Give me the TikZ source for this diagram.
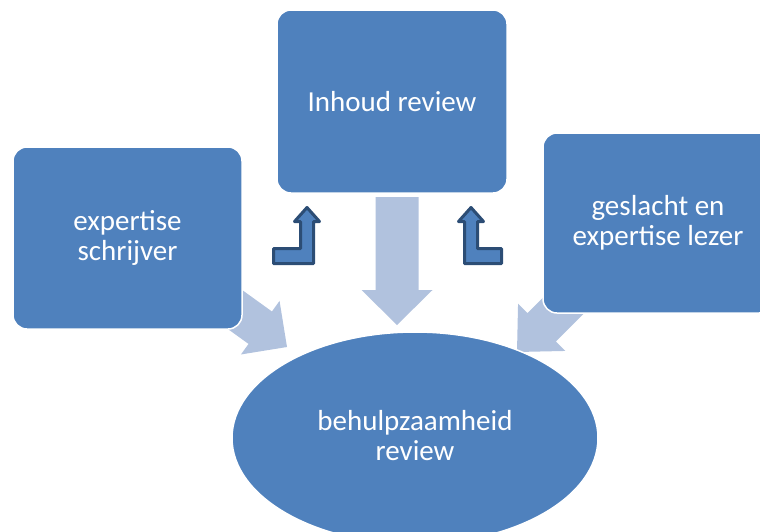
\documentclass[tikz,border=0pt]{standalone}
\usepackage{fontspec}
\setmainfont{Carlito}
\usetikzlibrary{shapes.geometric}

\definecolor{boxblue}{HTML}{4F81BD}
\definecolor{arrowlight}{HTML}{B1C2DE}
\definecolor{bentedge}{HTML}{2C4D75}

\tikzset{
  stage/.style={rectangle, rounded corners=14pt, fill=boxblue, draw=white,
    line width=1.5pt, text=white, align=center,
    font=\fontsize{29}{30}\selectfont},
  goal/.style={ellipse, fill=boxblue, draw=white, line width=1.5pt,
    text=white, align=center, inner sep=0pt,
    font=\fontsize{29}{30}\selectfont},
  flowarrow/.style={fill=arrowlight},
  bentarrow/.style={fill=boxblue, draw=bentedge, line width=3pt,
    line join=round}
}

% block arrow pointing along +x, tip at the origin
% #1 length, #2 head length, #3 half shaft width, #4 half head width
\newcommand{\blockarrowpath}[4]{%
  (-#1,#3) -- (-#2,#3) -- (-#2,#4) -- (0,0) -- (-#2,-#4) -- (-#2,-#3) -- (-#1,-#3) -- cycle}

\begin{document}
\begin{tikzpicture}[x=1pt, y=-1pt]
  \useasboundingbox (0,0) rectangle (760,531);

  % wide light arrows feeding the central review
  \begin{scope}[shift={(397,325)}, rotate=-90]
    \fill[flowarrow] \blockarrowpath{128}{35}{21.5}{35.5};
  \end{scope}
  \begin{scope}[shift={(287,347)}, rotate=-35.8]
    \fill[flowarrow] \blockarrowpath{85}{33}{20}{33};
  \end{scope}
  \begin{scope}[shift={(517,352)}, rotate=-135]
    \fill[flowarrow] \blockarrowpath{95}{35}{20}{33.5};
  \end{scope}

  % the four stages
  \node[stage, minimum width=230pt, minimum height=183pt] (inhoud) at (392,101.5) {Inhoud review};
  \node[stage, minimum width=229pt, minimum height=182pt] (schrijver) at (127.5,238) {expertise\\schrijver};
  \node[stage, minimum width=230pt, minimum height=180pt] (lezer) at (658,223) {geslacht en\\expertise lezer};
  \node[goal, minimum width=366pt, minimum height=212pt] (behulp) at (415,438) {behulpzaamheid\\review\\[-24pt]\mbox{}};

  % bent arrows pointing up to the content review
  \draw[bentarrow] (273.5,248.5) -- (300.5,248.5) -- (300.5,221.5) -- (294.5,221.5)
    -- (307,207.5) -- (319.5,221.5) -- (313.5,221.5) -- (313.5,263.5)
    -- (273.5,263.5) -- cycle;
  \draw[bentarrow] (501.5,248.5) -- (477.5,248.5) -- (477.5,221.5) -- (483.5,221.5)
    -- (471,207.5) -- (458.5,221.5) -- (464.5,221.5) -- (464.5,263.5)
    -- (501.5,263.5) -- cycle;
\end{tikzpicture}
\end{document}
